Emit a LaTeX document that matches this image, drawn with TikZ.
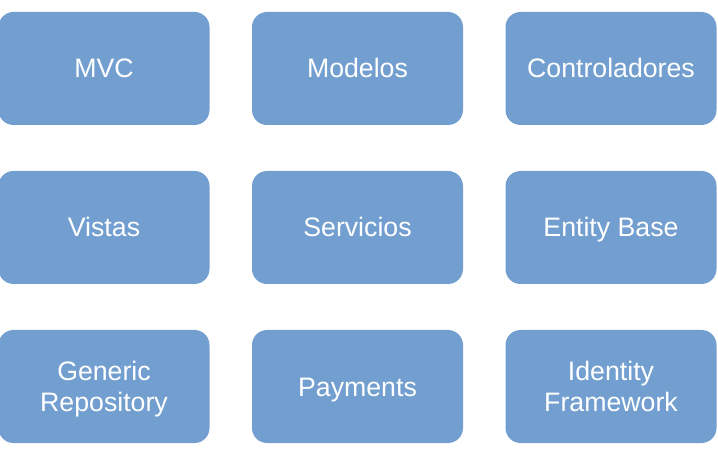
\documentclass[tikz,border=0pt]{standalone}
\usepackage{fontspec}
\setmainfont{Liberation Sans}
\definecolor{boxblue}{HTML}{729FCF}
\tikzset{
  modulo/.style={fill=boxblue, rounded corners=15pt, minimum width=211pt,
    minimum height=113pt, inner sep=0pt, text=white, align=center,
    text height=19pt, text depth=0pt,
    font=\fontsize{26.7}{31}\selectfont},
  doble/.style={text height=50pt}
}
\begin{document}
\begin{tikzpicture}[x=1pt,y=-1pt]
    \useasboundingbox (0,0) rectangle (718,454);
    \foreach \x / \y / \nombre / \extra / \texto in {
        104/68.5/mvc//{MVC}, 357.5/68.5/modelos//{Modelos}, 611/68.5/controladores//{Controladores},
        104/227.5/vistas//{Vistas}, 357.5/227.5/servicios//{Servicios}, 611/227.5/entity//{Entity Base},
        104/386.5/repo/doble/{Generic\\Repository}, 357.5/386.5/payments//{Payments}, 611/386.5/identity/doble/{Identity\\Framework}}
      \node[modulo,\extra] (\nombre) at (\x,\y) {\texto};
  \end{tikzpicture}
\end{document}
